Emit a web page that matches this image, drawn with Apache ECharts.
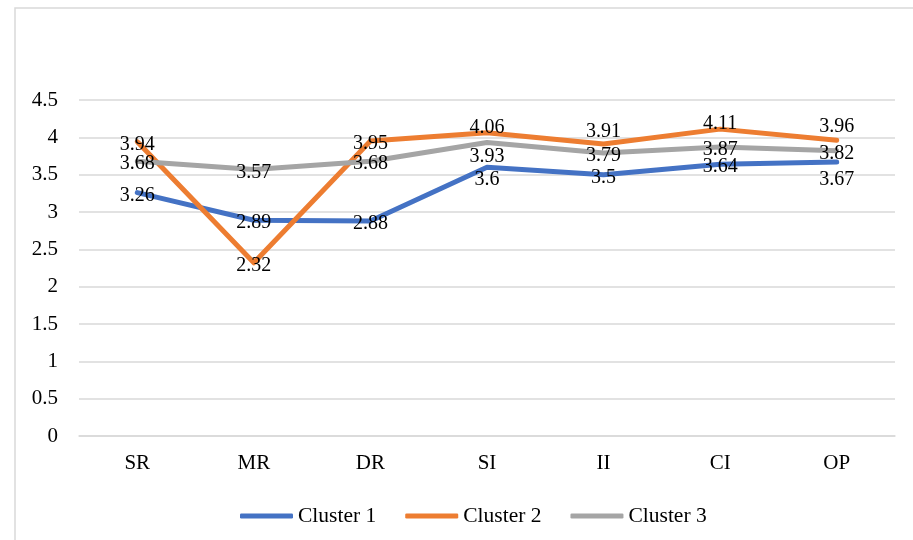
<!DOCTYPE html>
<html>
<head>
<meta charset="utf-8">
<script src="https://cdn.jsdelivr.net/npm/echarts@6/dist/echarts.min.js"></script>
<style>
  html, body { margin: 0; padding: 0; background: #fff; }
  #chart { width: 913px; height: 540px; }
</style>
</head>
<body>
<div id="chart"></div>
<script>
// Dimensions on the category axis
const categories = ['SR', 'MR', 'DR', 'SI', 'II', 'CI', 'OP'];

// Mean scores per cluster
const cluster1 = [3.26, 2.89, 2.88, 3.6, 3.5, 3.64, 3.67];
const cluster2 = [3.94, 2.32, 3.95, 4.06, 3.91, 4.11, 3.96];
const cluster3 = [3.68, 3.57, 3.68, 3.93, 3.79, 3.87, 3.82];

const seriesNames = ['Cluster 1', 'Cluster 2', 'Cluster 3'];

// Vertical nudges (px) of each value label from its point
const labelShift1 = [0, 0, 0, 10, 0, 0, 15];
const labelShift2 = [0, 0, 0, -8, -15, -8, -17];
const labelShift3 = [0, 0, 0, 11, 0, 0, 0];
const LABEL_BASE_DY = 3;

const colors = ['#4472C4', '#ED7D31', '#A5A5A5'];
const FONT = '"Liberation Serif", "Times New Roman", serif';

function buildSeries(name, values, shifts, color) {
  return {
    name: name,
    type: 'line',
    data: values,
    // invisible markers so the value labels are rendered
    symbol: 'circle',
    symbolSize: 0.01,
    showSymbol: true,
    smooth: false,
    lineStyle: { width: 5, color: color, cap: 'round', join: 'round' },
    itemStyle: { color: color },
    label: {
      show: true,
      position: 'inside',
      color: '#000',
      fontFamily: FONT,
      fontSize: 20
    },
    labelLayout: function (p) {
      return { dy: LABEL_BASE_DY + shifts[p.dataIndex], hideOverlap: false };
    },
    emphasis: { disabled: true }
  };
}

const chart = echarts.init(document.getElementById('chart'));
chart.setOption({
  animation: false,
  backgroundColor: '#fff',
  graphic: [{
    type: 'rect',
    shape: { x: 15, y: 8, width: 940, height: 580 },
    style: { fill: 'none', stroke: '#d9d9d9', lineWidth: 1.5 },
    silent: true
  }],
  grid: { left: 79, right: 18, top: 100, bottom: 104, containLabel: false },
  legend: {
    data: seriesNames,
    left: 235,
    top: 500,
    icon: 'roundRect',
    itemWidth: 53,
    itemHeight: 5,
    itemGap: 29,
    textStyle: { fontFamily: FONT, fontSize: 21.5, color: '#000' }
  },
  xAxis: {
    type: 'category',
    data: categories,
    boundaryGap: true,
    axisLine: { show: true, lineStyle: { color: '#d9d9d9', width: 1.5 } },
    axisTick: { show: false },
    axisLabel: { fontFamily: FONT, fontSize: 21, color: '#000', margin: 17 }
  },
  yAxis: {
    type: 'value',
    min: 0,
    max: 4.5,
    interval: 0.5,
    axisLine: { show: false },
    axisTick: { show: false },
    splitLine: { lineStyle: { color: '#d9d9d9', width: 1.5 } },
    axisLabel: { fontFamily: FONT, fontSize: 21, color: '#000', margin: 21 }
  },
  series: [
    buildSeries(seriesNames[0], cluster1, labelShift1, colors[0]),
    buildSeries(seriesNames[1], cluster2, labelShift2, colors[1]),
    buildSeries(seriesNames[2], cluster3, labelShift3, colors[2])
  ]
});
</script>
</body>
</html>
